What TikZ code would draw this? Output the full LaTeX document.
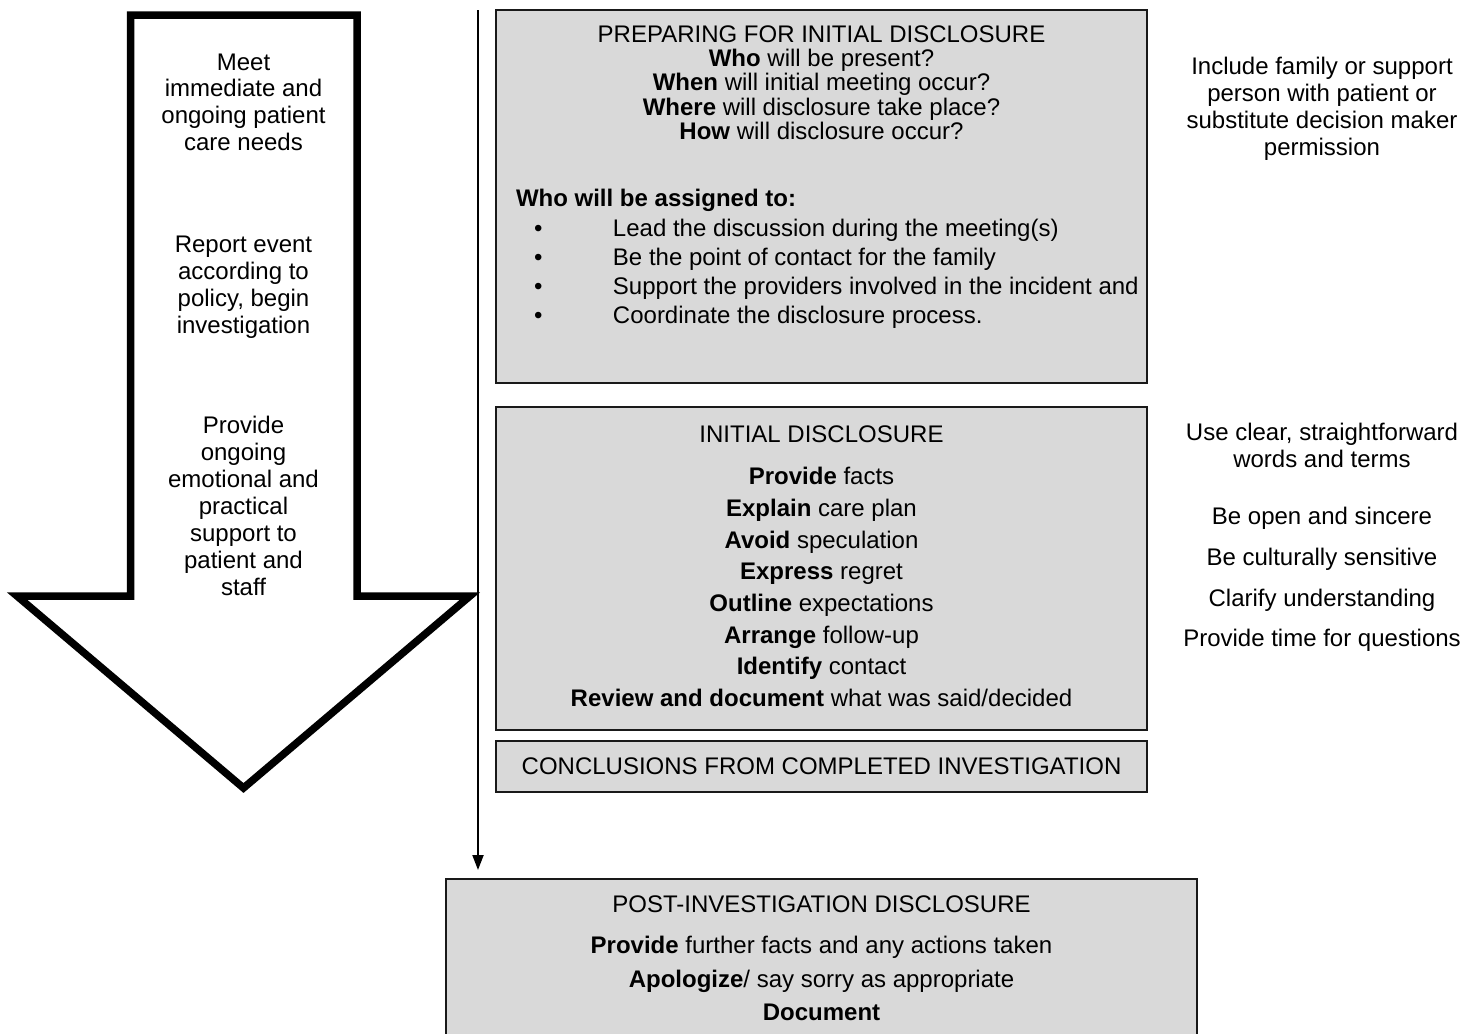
\documentclass[tikz,border=0pt]{standalone}
\usepackage{fontspec}
\setmainfont{Liberation Sans}
\usetikzlibrary{arrows.meta}
\definecolor{panelgray}{RGB}{217,217,217}
\begin{document}
\begin{tikzpicture}[x=1pt,y=-1pt,
  bigarrow/.style={draw=black,line width=7.5pt,miter limit=25,fill=white},
  panel/.style={draw=black!90,line width=2pt,fill=panelgray,inner sep=0pt,outer sep=0pt},
  txt/.style={inner sep=0pt,outer sep=0pt,align=center,font=\fontsize{24}{27}\selectfont},
  flow/.style={draw=black,line width=2pt,-{Triangle[length=15pt,width=11pt]}}]
\useasboundingbox (0,0) rectangle (1476,1034);
\clip (0,0) rectangle (1476,1034);
\fill[white] (0,0) rectangle (1476,1034);

% big hollow arrow
\draw[bigarrow] (130.5,15) -- (357,15) -- (357,596) -- (470,596) -- (243.5,788) -- (17,596) -- (130.5,596) -- cycle;
\node[txt,font=\fontsize{24}{26.7}\selectfont] (meet) at (243.5,102) {Meet\\immediate and\\ongoing patient\\care needs};
\node[txt] (report) at (243.5,287.5) {Report event\\according to\\policy, begin\\investigation};
\node[txt] (support) at (243.5,506) {Provide\\ongoing\\emotional and\\practical\\support to\\patient and\\staff};

% panels
\node[panel,minimum width=651pt,minimum height=373pt] (prep) at (821.5,196.5) {};
\node[panel,minimum width=651pt,minimum height=323pt] (init) at (821.5,568.5) {};
\node[panel,minimum width=651pt,minimum height=51pt] (concl) at (821.5,766.5) {};
\node[panel,minimum width=751pt,minimum height=181pt] (post) at (821.5,969.5) {};

% timeline connector
\coordinate (vtop) at (478,10);
\draw[flow,shorten >=9pt] (vtop) -- (vtop |- post.north);

% panel texts
\node[txt,font=\fontsize{24}{24.25}\selectfont] (prephead) at (821.5,82.5) {PREPARING FOR INITIAL DISCLOSURE\\\textbf{Who} will be present?\\\textbf{When} will initial meeting occur?\\\textbf{Where} will disclosure take place?\\\textbf{How} will disclosure occur?};
\node[txt,anchor=west] (assign) at (516,200) {\textbf{Who will be assigned to:}};
\node[txt,align=left,anchor=west,font=\fontsize{24}{29}\selectfont] (bullets) at (534,273.5) {\makebox[79pt][l]{•}Lead the discussion during the meeting(s)\\\makebox[79pt][l]{•}Be the point of contact for the family\\\makebox[79pt][l]{•}Support the providers involved in the incident and\\\makebox[79pt][l]{•}Coordinate the disclosure process.};

\node[txt] (inithead) at (821.5,434) {INITIAL DISCLOSURE};
\node[txt,font=\fontsize{24}{31.7}\selectfont] (initlist) at (821.5,587) {\textbf{Provide} facts\\\textbf{Explain} care plan\\\textbf{Avoid} speculation\\\textbf{Express} regret\\\textbf{Outline} expectations\\\textbf{Arrange} follow-up\\\textbf{Identify} contact\\\textbf{Review and document} what was said/decided};

\node[txt] (concltxt) at (821.5,766) {CONCLUSIONS FROM COMPLETED INVESTIGATION};

\node[txt] (posthead) at (821.5,904) {POST-INVESTIGATION DISCLOSURE};
\node[txt,font=\fontsize{24}{33.5}\selectfont] (postlist) at (821.5,978.5) {\textbf{Provide} further facts and any actions taken\\\textbf{Apologize}/ say sorry as appropriate\\\textbf{Document}};

% side notes
\node[txt] (family) at (1322,108.5) {Include family or support\\person with patient or\\substitute decision maker\\permission};
\node[txt] (clear) at (1322,445) {Use clear, straightforward\\words and terms};
\node[txt,font=\fontsize{24}{40.7}\selectfont] (tips) at (1322,579.5) {Be open and sincere\\Be culturally sensitive\\Clarify understanding\\Provide time for questions};
\end{tikzpicture}
\end{document}
